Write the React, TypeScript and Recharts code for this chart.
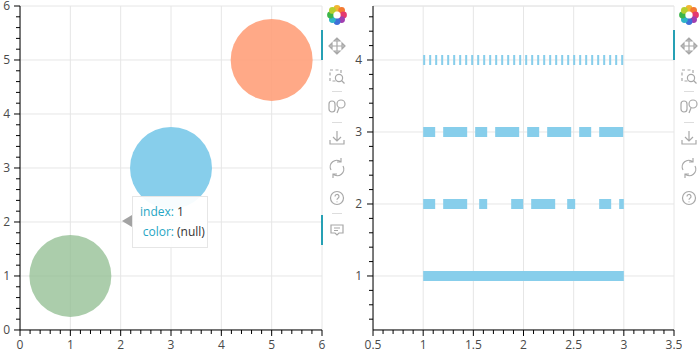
import {
  ComposedChart,
  Scatter,
  Line,
  XAxis,
  YAxis,
  ZAxis,
  CartesianGrid,
  ReferenceLine,
} from 'recharts';

const greenPoints = [{ x: 1, y: 1, z: 1 }];
const bluePoints = [{ x: 3, y: 3, z: 1 }];
const salmonPoints = [{ x: 5, y: 5, z: 1 }];

const lineRows = [
  { x: 1, solid: 1, dashDot: 2, dashed: 3, dotted: 4 },
  { x: 3, solid: 1, dashDot: 2, dashed: 3, dotted: 4 },
];

const leftTicks = [0, 1, 2, 3, 4, 5, 6];
const leftMinor = [
  0.2, 0.4, 0.6, 0.8, 1.2, 1.4, 1.6, 1.8, 2.2, 2.4, 2.6, 2.8, 3.2, 3.4, 3.6, 3.8, 4.2, 4.4, 4.6,
  4.8, 5.2, 5.4, 5.6, 5.8,
];
const rightXTicks = [0.5, 1, 1.5, 2, 2.5, 3, 3.5];
const rightXMinor = [
  0.6, 0.7, 0.8, 0.9, 1.1, 1.2, 1.3, 1.4, 1.6, 1.7, 1.8, 1.9, 2.1, 2.2, 2.3, 2.4, 2.6, 2.7, 2.8,
  2.9, 3.1, 3.2, 3.3, 3.4,
];
const rightYTicks = [1, 2, 3, 4];
const rightYMinor = [
  0.4, 0.6, 0.8, 1.2, 1.4, 1.6, 1.8, 2.2, 2.4, 2.6, 2.8, 3.2, 3.4, 3.6, 3.8, 4.2, 4.4, 4.6,
];

const FONT = '"Open Sans", sans-serif';
const TICK = { fontSize: 12, fill: '#4a4a4a', fontFamily: FONT };
const AXIS = { stroke: '#000', strokeWidth: 1 };
const GRID = '#e6e6e6';
const ICON = '#a8a8a8';
const TEAL = '#26a0b4';
const SKY = '#87ceeb';
const CIRCLE_AREA = 5280;
const LOGO_COLORS = ['#f2b632', '#f47a32', '#e5396e', '#a13fb0', '#3f6fd8', '#2fb5c8', '#3cb54a', '#b5cf2f'];

const NoLabel = () => <g />;

function Logo({ x }: { x: number }) {
  return (
    <svg style={{ position: 'absolute', left: x - 10, top: 5 }} width={20} height={20}>
      {LOGO_COLORS.map((c, i) => (
        <circle
          key={c}
          cx={10 + 6.5 * Math.sin((i * Math.PI) / 4)}
          cy={10 - 6.5 * Math.cos((i * Math.PI) / 4)}
          r={3.4}
          fill={c}
        />
      ))}
      <circle cx={10} cy={10} r={3.6} fill="#fff" />
    </svg>
  );
}

function Toolbar({ x, hover }: { x: number; hover?: boolean }) {
  const s = { fill: 'none', stroke: ICON, strokeWidth: 1.2 };
  const sep = (y: number) => (
    <div style={{ position: 'absolute', left: x - 5, top: y, width: 10, height: 1, background: '#ddd' }} />
  );
  return (
    <>
      <Logo x={x} />
      <svg style={{ position: 'absolute', left: x - 10, top: 0 }} width={20} height={245}>
        {/* pan */}
        <path d="M10 39v14M3 46h14M10 38l-3 3h6zM10 54l-3-3h6zM2 46l3-3v6zM18 46l-3-3v6z" {...s} />
        {/* box zoom */}
        <rect x={3} y={70} width={11} height={11} {...s} strokeDasharray="3 2.5" />
        <circle cx={12} cy={78} r={3.6} {...s} fill="#fff" />
        <path d="M14.500 80.500l3 3" {...s} />
        {/* wheel zoom */}
        <rect x={2} y={101} width={6} height={11} rx={3} {...s} />
        <circle cx={14} cy={104} r={4} {...s} />
        <path d="M12 108l-2 5" {...s} />
        {/* save */}
        <path d="M10 131v10M6 137l4 4 4-4M3 140v4h14v-4" {...s} />
        {/* reset */}
        <path d="M4 170a6.500 6.500 0 0 1 10-8M16 166a6.500 6.500 0 0 1-10 8M14 158v4h-4M6 178v-4h4" {...s} />
        {/* help */}
        <circle cx={10} cy={198} r={6.5} {...s} />
        <path d="M8 196.500a2 2 0 1 1 3 1.700c-.7.400-1 .8-1 1.600M10 201.500v.8" {...s} />
        {hover && <path d="M4 225h12v8h-4l-2 2-2-2H4zM7 228h6M7 230.500h4" {...s} />}
      </svg>
      {sep(91)}
      {sep(122)}
      {hover && sep(213)}
    </>
  );
}

function Marker({ x, y }: { x: number; y: number }) {
  return <div style={{ position: 'absolute', left: x, top: y, width: 2, height: 30, background: TEAL }} />;
}

function HoverBox() {
  const key = { color: '#26a6c4', display: 'inline-block', width: 41, textAlign: 'right' as const, marginRight: 3 };
  return (
    <>
      <div
        style={{
          position: 'absolute',
          left: 122,
          top: 215,
          width: 0,
          height: 0,
          borderTop: '6px solid transparent',
          borderBottom: '6px solid transparent',
          borderRight: '10px solid #a3a3a3',
        }}
      />
      <div
        style={{
          position: 'absolute',
          left: 132,
          top: 196,
          width: 74,
          height: 45,
          background: 'rgba(255,255,255,0.93)',
          border: '1px solid #e6e6e6',
          fontFamily: FONT,
          fontSize: 12,
          color: '#333',
          lineHeight: '20px',
          paddingTop: 5,
        }}
      >
        <div style={{ whiteSpace: 'nowrap' }}>
          <span style={key}>index:</span>1
        </div>
        <div style={{ whiteSpace: 'nowrap' }}>
          <span style={key}>color:</span>(null)
        </div>
      </div>
    </>
  );
}

export default function App() {
  return (
    <div style={{ position: 'absolute', left: 0, top: 0, width: 700, height: 352, background: '#fff', overflow: 'hidden' }}>
      <div style={{ position: 'absolute', left: 0, top: 0 }}>
        <ComposedChart width={330} height={352} margin={{ top: 6, right: 8, bottom: 22, left: 20 }}>
          <CartesianGrid stroke={GRID} />
          <XAxis type="number" dataKey="x" domain={[0, 6]} ticks={leftTicks} interval={0} height={0.01} tick={TICK} tickSize={6} tickMargin={4} axisLine={AXIS} tickLine={AXIS} />
          <XAxis xAxisId="minor" type="number" dataKey="x" domain={[0, 6]} ticks={leftMinor} interval={0} height={0.01} tick={NoLabel} tickSize={4} axisLine={false} tickLine={AXIS} />
          <YAxis type="number" dataKey="y" domain={[0, 6]} ticks={leftTicks} interval={0} width={0.01} tick={TICK} tickSize={6} tickMargin={4} axisLine={AXIS} tickLine={AXIS} />
          <YAxis yAxisId="minor" type="number" dataKey="y" domain={[0, 6]} ticks={leftMinor} interval={0} width={0.01} tick={NoLabel} tickSize={4} axisLine={false} tickLine={AXIS} />
          <ZAxis type="number" dataKey="z" range={[CIRCLE_AREA, CIRCLE_AREA]} />
          <ZAxis zAxisId="minor" type="number" dataKey="z" range={[1, 1]} />
          {/* invisible series so the minor tick axes get rendered */}
          <Scatter data={greenPoints} xAxisId="minor" yAxisId="minor" zAxisId="minor" fill="none" isAnimationActive={false} />
          <Scatter data={greenPoints} fill="#8fbc8f" fillOpacity={0.75} isAnimationActive={false} />
          <Scatter data={bluePoints} fill={SKY} isAnimationActive={false} />
          <Scatter data={salmonPoints} fill="#ffa07a" fillOpacity={0.9} isAnimationActive={false} />
        </ComposedChart>
      </div>

      <div style={{ position: 'absolute', left: 352, top: 0 }}>
        <ComposedChart width={330} height={352} data={lineRows} margin={{ top: 6, right: 8, bottom: 22, left: 21 }}>
          <CartesianGrid stroke={GRID} />
          <XAxis type="number" dataKey="x" domain={[0.5, 3.5]} ticks={rightXTicks} interval={0} height={0.01} tick={TICK} tickSize={6} tickMargin={4} axisLine={AXIS} tickLine={AXIS} />
          <XAxis xAxisId="minor" type="number" dataKey="x" domain={[0.5, 3.5]} ticks={rightXMinor} interval={0} height={0.01} tick={NoLabel} tickSize={4} axisLine={false} tickLine={AXIS} />
          <YAxis type="number" domain={[0.25, 4.75]} ticks={rightYTicks} interval={0} width={0.01} tick={TICK} tickSize={6} tickMargin={5} axisLine={AXIS} tickLine={AXIS} />
          <YAxis yAxisId="minor" type="number" domain={[0.25, 4.75]} ticks={rightYMinor} interval={0} width={0.01} tick={NoLabel} tickSize={4} axisLine={false} tickLine={AXIS} />
          <ReferenceLine y={4.75} stroke={GRID} />
          <Line dataKey="solid" xAxisId="minor" yAxisId="minor" stroke="none" dot={false} isAnimationActive={false} />
          <Line dataKey="solid" stroke={SKY} strokeWidth={10} dot={false} isAnimationActive={false} />
          <Line dataKey="dashDot" stroke={SKY} strokeWidth={10} strokeDasharray="12 8 24 12 8 24" dot={false} isAnimationActive={false} />
          <Line dataKey="dashed" stroke={SKY} strokeWidth={10} strokeDasharray="12 8 24 8" dot={false} isAnimationActive={false} />
          <Line dataKey="dotted" stroke={SKY} strokeWidth={10} strokeDasharray="2 4" dot={false} isAnimationActive={false} />
        </ComposedChart>
      </div>

      <HoverBox />
      <Marker x={321} y={30} />
      <Marker x={321} y={215} />
      <Marker x={673} y={30} />
      <Toolbar x={337} hover />
      <Toolbar x={689} />
    </div>
  );
}
